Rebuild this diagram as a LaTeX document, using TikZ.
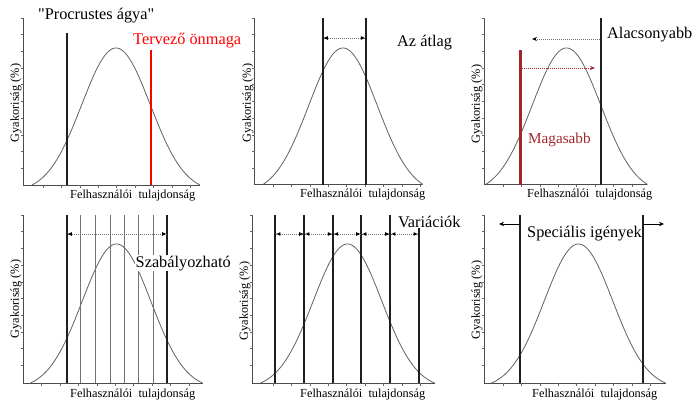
\documentclass[tikz,border=0pt]{standalone}
\usepackage{fontspec}
\setmainfont{Liberation Serif}[Ligatures=TeXOff]
\usetikzlibrary{arrows.meta}
\definecolor{brightred}{HTML}{FF0000}
\definecolor{darkred}{HTML}{A3262C}
\newcommand{\chartaxes}[6]{% ax, top, base, xend, first x tick, number of x ticks - 1
  \draw[axisline] (#1,#2) -- (#1,#3) -- (#4,#3);
  \foreach \k in {0,...,9} \draw[tickline] (#1-2.5,{#2+\k*16.7}) -- (#1,{#2+\k*16.7});
  \foreach \k in {0,...,#6} \draw[tickline] ({#5+\k*18.4},#3) -- ({#5+\k*18.4},#3+2.5);
}
\newcommand{\bellcurve}[4]{% mu, base, height, half width
  \draw[bell] plot[domain=-#4:#4, samples=120, smooth]
    ({#1+\x}, {#2 - #3*(exp(-(\x)*(\x)/2350)-exp(-(#4)*(#4)/2350))/(1-exp(-(#4)*(#4)/2350))});
}
\begin{document}
\begin{tikzpicture}[x=1pt,y=-1pt,
  axisline/.style={draw=black!70, line width=0.9pt},
  tickline/.style={draw=black!60, line width=0.6pt},
  bell/.style={draw=black!62, line width=0.8pt},
  bar/.style={draw=black!88, line width=2.2pt},
  thinbar/.style={draw=black!55, line width=0.9pt},
  dotarrow/.style={draw=black!55, line width=0.8pt, dash pattern=on 1pt off 1pt},
  title/.style={font=\fontsize{16.3}{18}\selectfont, anchor=base west, inner sep=0pt},
  xlab/.style={font=\fontsize{12.3}{14}\selectfont, anchor=base west, inner sep=0pt, text=black},
  ylab/.style={font=\fontsize{12.3}{14}\selectfont, rotate=90, inner sep=0pt, text=black}]
\useasboundingbox (0,0) rectangle (696,401);

% ---------------- panel 1 ----------------
\chartaxes{23.3}{18}{185}{200}{43}{8}
\bellcurve{116}{185}{137}{84}
\draw[bar] (67,33) -- (67,185);
\draw[bar, draw=brightred] (151,50) -- (151,185);
\node[title] (t1) at (38,20) {"Procrustes ágya"};
\node[title, text=brightred] (t1b) at (133,45) {Tervező önmaga};
\node[xlab] (x1) at (70,198) {Felhasználói\ \ tulajdonság};
\node[ylab] (y1) at (16,103) {Gyakoriság (\%)};

% ---------------- panel 2 ----------------
\chartaxes{254.7}{18}{184.5}{422}{273}{8}
\bellcurve{343}{184.5}{136.5}{80}
\draw[bar] (322.7,18) -- (322.7,185);
\draw[bar] (366,18) -- (366,185);
\coordinate (p2a) at (323.8,38);
\coordinate (p2b) at (364.9,38);
\draw[dotarrow] (p2a) -- (p2b);
\draw[fill=black, draw=none] (p2a) -- ++(4,-1.8) -- ++(0,3.6) -- cycle;
\draw[fill=black, draw=none] (p2b) -- ++(-4,-1.8) -- ++(0,3.6) -- cycle;
\node[title] (t2) at (397,47) {Az átlag};
\node[xlab] (x2) at (300,197) {Felhasználói\ \ tulajdonság};
\node[ylab] (y2) at (248,103) {Gyakoriság (\%)};

% ---------------- panel 3 ----------------
\chartaxes{484.7}{18}{184.5}{647}{503}{7}
\bellcurve{566.5}{184.5}{136.5}{81}
\draw[bar] (601,18) -- (601,185);
\draw[bar, draw=darkred, line width=2.5pt] (520.7,50) -- (520.7,185);
\coordinate (p3a) at (599.8,39);
\coordinate (p3b) at (532,39);
\draw[dotarrow, -{Stealth[length=5pt,width=4pt,black]}] (p3a) -- (p3b);
\coordinate (p3c) at (522,68);
\coordinate (p3d) at (595,68);
\draw[dotarrow, draw=darkred, -{Stealth[length=5pt,width=4pt,darkred]}] (p3c) -- (p3d);
\node[title] (t3) at (607,39) {Alacsonyabb};
\node[title, text=darkred, font=\fontsize{15.2}{17}\selectfont] (t3b) at (528,143) {Magasabb};
\node[xlab] (x3) at (527,197) {Felhasználói\ \ tulajdonság};
\node[ylab] (y3) at (477,104) {Gyakoriság (\%)};

% ---------------- panel 4 ----------------
\chartaxes{23.3}{215}{383}{203}{41.7}{8}
\bellcurve{116.5}{383}{139}{86}
\foreach \xx in {80,95,110,124,138,153} \draw[thinbar] (\xx,215) -- (\xx,383);
\draw[bar] (66.7,215) -- (66.7,383);
\draw[bar] (167.3,215) -- (167.3,383);
\coordinate (p4a) at (67.8,234);
\coordinate (p4b) at (166.2,234);
\draw[dotarrow] (p4a) -- (p4b);
\draw[fill=black, draw=none] (p4a) -- ++(4,-1.8) -- ++(0,3.6) -- cycle;
\draw[fill=black, draw=none] (p4b) -- ++(-4,-1.8) -- ++(0,3.6) -- cycle;
\node[title, fill=white, inner sep=0.5pt] (t4) at (135,267) {Szabályozható};
\node[xlab] (x4) at (70,397) {Felhasználói\ \ tulajdonság};
\node[ylab] (y4) at (16,299) {Gyakoriság (\%)};

% ---------------- panel 5 ----------------
\chartaxes{252.7}{215}{383}{435}{273}{8}
\bellcurve{347.5}{383}{139}{87}
\foreach \xx [count=\i] in {275.3,304.3,333,361.3,390.3,418.7} {
  \draw[bar] (\xx,215) -- (\xx,383);
  \coordinate (v\i) at (\xx,234);
}
\foreach \a/\b in {1/2,2/3,3/4,4/5,5/6} {
  \draw[dotarrow] ([xshift=1.1pt]v\a) -- ([xshift=-1.1pt]v\b);
  \draw[fill=black, draw=none] ([xshift=1.1pt]v\a) -- ++(4,-1.8) -- ++(0,3.6) -- cycle;
  \draw[fill=black, draw=none] ([xshift=-1.1pt]v\b) -- ++(-4,-1.8) -- ++(0,3.6) -- cycle;
}
\node[title, fill=white, inner sep=0.8pt] (t5) at (397,227) {Variációk};
\node[xlab] (x5) at (300,397) {Felhasználói\ \ tulajdonság};
\node[ylab] (y5) at (245,301) {Gyakoriság (\%)};

% ---------------- panel 6 ----------------
\chartaxes{484.7}{215}{383}{666}{503}{8}
\bellcurve{578.5}{383}{139}{87}
\draw[bar] (519.7,215) -- (519.7,383);
\draw[bar] (643,215) -- (643,383);
\coordinate (p6a) at (519.7,224);
\coordinate (p6b) at (499,224);
\coordinate (p6c) at (643,224);
\coordinate (p6d) at (664,224);
\draw[line width=1pt, -{Stealth[length=5pt,width=4.5pt]}] (p6a) -- (p6b);
\draw[line width=1pt, -{Stealth[length=5pt,width=4.5pt]}] (p6c) -- (p6d);
\node[title] (t6) at (527,237) {Speciális igények};
\node[xlab] (x6) at (532,397) {Felhasználói\ \ tulajdonság};
\node[ylab] (y6) at (477,300) {Gyakoriság (\%)};
\end{tikzpicture}
\end{document}
